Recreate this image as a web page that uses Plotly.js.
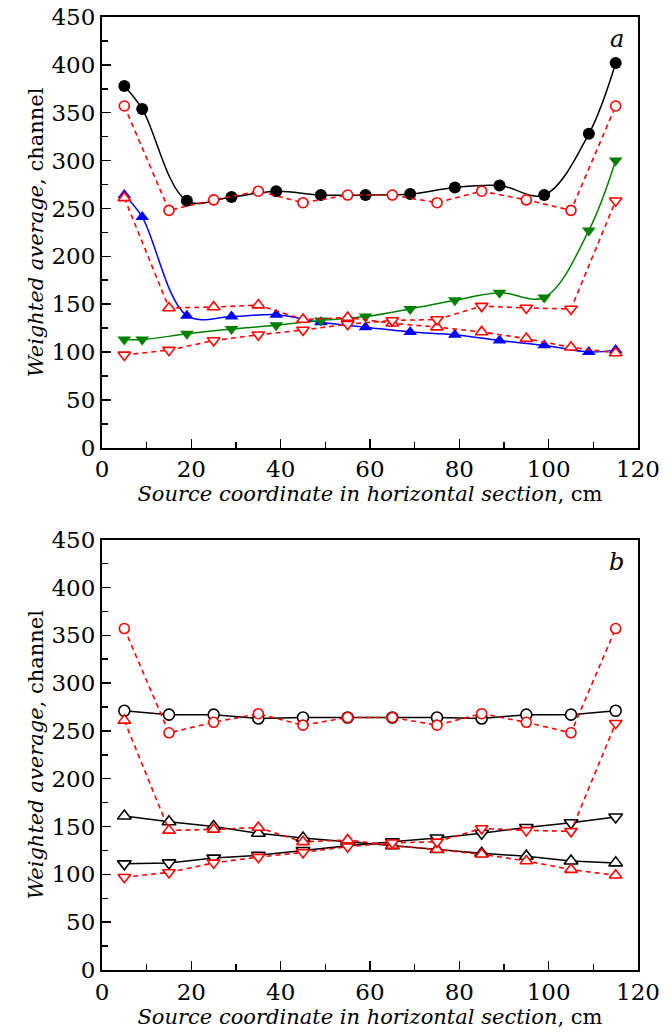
<!DOCTYPE html>
<html>
<head>
<meta charset="utf-8">
<script src="https://cdn.plot.ly/plotly-3.0.1.min.js"></script>
<style>html,body{margin:0;padding:0;background:#fff;}#plot{width:672px;height:1033px;}</style>
</head>
<body>
<div id="plot"></div>
<script>
// ---- data ----
const xFit = [5, 9, 19, 29, 39, 49, 59, 69, 79, 89, 99, 109, 115];
const xMeas = [5, 15, 25, 35, 45, 55, 65, 75, 85, 95, 105, 115];

const topBlackCircle = [378, 354, 258, 262, 268, 264, 264, 265, 272, 274, 264, 328, 402];
const topBlueUp = [264, 241, 138, 137, 139, 131, 126, 121, 118, 112, 107, 100, 102];
const topGreenDown = [113, 113, 119, 124, 128, 133, 137, 145, 154, 162, 157, 227, 300];

const redCircle = [357, 248, 259, 268, 256, 264, 264, 256, 268, 259, 248, 357];
const redUp = [261, 146, 147, 149, 134, 136, 130, 126, 121, 114, 105, 99];
const redDown = [97, 102, 112, 118, 123, 129, 133, 134, 148, 146, 145, 258];

const botBlackCircle = [271, 267, 267, 263, 264, 264, 264, 264, 263, 267, 267, 271];
const botBlackUp = [161, 155, 150, 143, 138, 134, 130, 126, 122, 119, 114, 112];
const botBlackDown = [111, 112, 117, 120, 125, 130, 134, 138, 143, 149, 154, 160];

const xTitle = "<i>Source coordinate in horizontal section</i>, cm";
const yTitle = "<i>Weighted average</i>, channel";

// ---- styles ----
const FONT = "DejaVu Serif";
const RED = "#ff0000";
const dashRed = {color: RED, width: 1.6, dash: "5px,4px"};

function redTraces(xa, ya) {
  return [
    {x: xMeas, y: redCircle, xaxis: xa, yaxis: ya, mode: "lines+markers", line: dashRed,
     marker: {symbol: "circle", size: 10, color: "#fff", line: {color: RED, width: 1.6}}},
    {x: xMeas, y: redUp, xaxis: xa, yaxis: ya, mode: "lines+markers", line: dashRed,
     marker: {symbol: "triangle-up", size: 11, color: "#fff", line: {color: RED, width: 1.6}}},
    {x: xMeas, y: redDown, xaxis: xa, yaxis: ya, mode: "lines+markers", line: dashRed,
     marker: {symbol: "triangle-down", size: 11, color: "#fff", line: {color: RED, width: 1.6}}}
  ];
}

const traces = [
  {x: xFit, y: topBlackCircle, xaxis: "x", yaxis: "y", mode: "lines+markers",
   line: {color: "#000", width: 1.5, shape: "spline", smoothing: 1},
   marker: {symbol: "circle", size: 12, color: "#000"}},
  {x: xFit, y: topBlueUp, xaxis: "x", yaxis: "y", mode: "lines+markers",
   line: {color: "#0000ff", width: 1.5, shape: "spline", smoothing: 1},
   marker: {symbol: "triangle-up", size: 12, color: "#0000ff"}},
  {x: xFit, y: topGreenDown, xaxis: "x", yaxis: "y", mode: "lines+markers",
   line: {color: "#008000", width: 1.5, shape: "spline", smoothing: 1},
   marker: {symbol: "triangle-down", size: 12, color: "#008000"}},
  ...redTraces("x", "y"),
  {x: xMeas, y: botBlackCircle, xaxis: "x2", yaxis: "y2", mode: "lines+markers",
   line: {color: "#000", width: 1.5},
   marker: {symbol: "circle", size: 11, color: "#fff", line: {color: "#000", width: 1.6}}},
  {x: xMeas, y: botBlackUp, xaxis: "x2", yaxis: "y2", mode: "lines+markers",
   line: {color: "#000", width: 1.5},
   marker: {symbol: "triangle-up", size: 12, color: "#fff", line: {color: "#000", width: 1.6}}},
  {x: xMeas, y: botBlackDown, xaxis: "x2", yaxis: "y2", mode: "lines+markers",
   line: {color: "#000", width: 1.5},
   marker: {symbol: "triangle-down", size: 12, color: "#fff", line: {color: "#000", width: 1.6}}},
  ...redTraces("x2", "y2")
];

function xax(anchor) {
  return {
    anchor: anchor, domain: [0, 1], range: [0, 120], dtick: 20, tick0: 0,
    ticks: "inside", ticklen: 9, tickwidth: 1.5, tickcolor: "#000",
    minor: {dtick: 10, ticks: "inside", ticklen: 6, tickwidth: 1.5, tickcolor: "#000"},
    showline: true, linecolor: "#000", linewidth: 2, mirror: true,
    showgrid: false, zeroline: false,
    tickfont: {family: FONT, size: 23, color: "#000"},
    title: {text: xTitle, font: {family: FONT, size: 21, color: "#000"}, standoff: 2}
  };
}
function yax(anchor, domain) {
  return {
    anchor: anchor, domain: domain, range: [0, 450], dtick: 50, tick0: 0,
    ticks: "inside", ticklen: 9, tickwidth: 1.5, tickcolor: "#000",
    minor: {dtick: 25, ticks: "inside", ticklen: 6, tickwidth: 1.5, tickcolor: "#000"},
    showline: true, linecolor: "#000", linewidth: 2, mirror: true,
    showgrid: false, zeroline: false,
    tickfont: {family: FONT, size: 23, color: "#000"},
    title: {text: yTitle, font: {family: FONT, size: 21, color: "#000"}, standoff: 2}
  };
}

const layout = {
  width: 672, height: 1033,
  margin: {l: 102, r: 34, t: 17, b: 63},
  paper_bgcolor: "#fff", plot_bgcolor: "#fff",
  showlegend: false,
  font: {family: FONT, color: "#000"},
  xaxis: xax("y"),
  yaxis: yax("x", [0.548, 1]),
  xaxis2: xax("y2"),
  yaxis2: yax("x2", [0, 0.4516]),
  annotations: [
    {text: "<i>a</i>", xref: "x domain", yref: "y domain", x: 0.96, y: 0.985,
     xanchor: "center", yanchor: "top", showarrow: false, font: {family: FONT, size: 24, color: "#000"}},
    {text: "<i>b</i>", xref: "x2 domain", yref: "y2 domain", x: 0.96, y: 0.985,
     xanchor: "center", yanchor: "top", showarrow: false, font: {family: FONT, size: 24, color: "#000"}}
  ]
};

Plotly.newPlot("plot", traces, layout, {displayModeBar: false, staticPlot: true});
</script>
</body>
</html>
